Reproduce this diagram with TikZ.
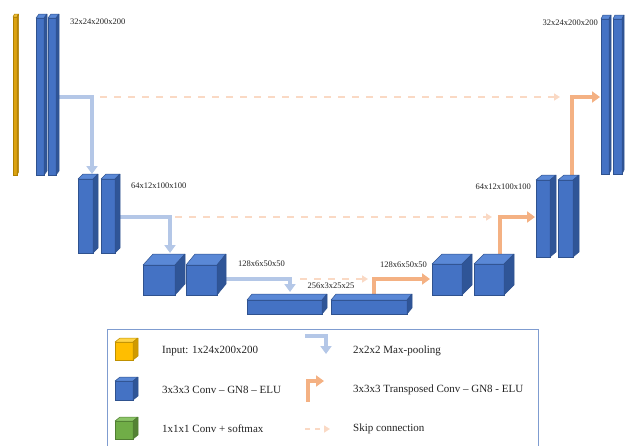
\documentclass[tikz,border=0pt]{standalone}
\usepackage{fontspec}
\setmainfont{Liberation Serif}
\usetikzlibrary{arrows.meta,fit}
\pgfdeclarelayer{back}
\pgfsetlayers{back,main}

% block palettes: front, top, side, edge
\definecolor{bluefront}{HTML}{4472C4}
\definecolor{bluetop}{HTML}{5A88D6}
\definecolor{blueside}{HTML}{2F5597}
\definecolor{blueedge}{HTML}{2F528F}
\definecolor{goldfront}{HTML}{FFBE00}
\definecolor{goldtop}{HTML}{FFD447}
\definecolor{goldside}{HTML}{D09A00}
\definecolor{goldedge}{HTML}{BF9000}
\definecolor{barfront}{HTML}{DCA312}
\definecolor{bartop}{HTML}{EDBE3A}
\definecolor{barside}{HTML}{B8860B}
\definecolor{baredge}{HTML}{B08000}
\definecolor{greenfront}{HTML}{70AD47}
\definecolor{greentop}{HTML}{8CC568}
\definecolor{greenside}{HTML}{548235}
\definecolor{greenedge}{HTML}{507E32}
% connector colours
\definecolor{poolblue}{HTML}{B4C7E7}
\definecolor{upcol}{HTML}{F4B183}
\definecolor{skipcol}{HTML}{FAD9C4}
\definecolor{framecol}{HTML}{7F9CD0}
\definecolor{txt}{HTML}{222222}

% cuboid: name, top-left of front face, bottom-right of front face, depth dx, depth dy, palette
\newcommand\cuboid[6]{%
  \node[fit={#2 #3}, inner sep=0pt, outer sep=0pt, draw=#6edge, fill=#6front, line width=0.5pt] (#1) {};
  \filldraw[draw=#6edge, fill=#6top, line width=0.5pt, line join=round]
    (#1.north west) -- ++(#4pt,#5pt) -- ([xshift=#4pt,yshift=#5pt]#1.north east) -- (#1.north east) -- cycle;
  \filldraw[draw=#6edge, fill=#6side, line width=0.5pt, line join=round]
    (#1.north east) -- ++(#4pt,#5pt) -- ([xshift=#4pt,yshift=#5pt]#1.south east) -- (#1.south east) -- cycle;
}

\tikzset{
  pool/.style={draw=poolblue, line width=3.5pt, -{Triangle[width=11pt,length=8pt]}},
  upconv/.style={draw=upcol, line width=3.5pt, -{Triangle[width=11pt,length=8pt]}},
  skip/.style={draw=skipcol, line width=1.6pt, dash pattern=on 7pt off 7pt, -{Triangle[width=7pt,length=6pt]}},
  dimlabel/.style={font=\fontsize{8.5}{10}\selectfont, text=txt, inner sep=0pt},
  legtext/.style={font=\fontsize{11}{13}\selectfont, text=txt, inner sep=0pt, anchor=west},
  legendbox/.style={draw=framecol, line width=1pt, inner sep=0pt},
}

\begin{document}
\begin{tikzpicture}[x=1pt,y=-1pt]
\useasboundingbox (0,0) rectangle (637,445);

% encoder
\cuboid{input}{(13,17)}{(17,175)}{1.5}{3}{bar}
\cuboid{L1a}{(36,18)}{(44,175)}{3}{4}{blue}
\cuboid{L1b}{(48,18)}{(56,175)}{3}{4}{blue}
\cuboid{L2a}{(78,179)}{(93,253)}{5}{5}{blue}
\cuboid{L2b}{(101,179)}{(115,253)}{5}{5}{blue}
\cuboid{L3a}{(143,265)}{(175,295)}{10}{11}{blue}
\cuboid{L3b}{(186,265)}{(217,295)}{9}{11}{blue}
% bottleneck
\cuboid{B1}{(247,300)}{(322,314)}{5}{6}{blue}
\cuboid{B2}{(331,300)}{(407,314)}{5}{6}{blue}
% decoder
\cuboid{R3a}{(432,264)}{(462,295)}{10}{10}{blue}
\cuboid{R3b}{(474,264)}{(504,295)}{10}{10}{blue}
\cuboid{R2a}{(536,180)}{(550,257)}{6}{5}{blue}
\cuboid{R2b}{(558,180)}{(573,257)}{6}{5}{blue}
\cuboid{R1a}{(601,19)}{(609,174)}{2}{4}{blue}
\cuboid{R1b}{(613,19)}{(622,174)}{2}{4}{blue}

% feature map sizes
\node[dimlabel, anchor=west] (d1) at (70,22) {32x24x200x200};
\node[dimlabel, anchor=west] (d2) at (131,186) {64x12x100x100};
\node[dimlabel, anchor=west] (d3) at (238,264) {128x6x50x50};
\node[dimlabel] (d4) at (331,286) {256x3x25x25};
\node[dimlabel, anchor=west] (d5) at (380,265) {128x6x50x50};
\node[dimlabel, anchor=east] (d6) at (531,187) {64x12x100x100};
\node[dimlabel, anchor=east] (d7) at (598,23) {32x24x200x200};

% level heights
\coordinate (lv1) at (0,97);
\coordinate (lv2) at (0,217);
\coordinate (lv3) at (0,279);
% skip connection ends
\coordinate (s1a) at (100,97);  \coordinate (s1b) at (560,97);
\coordinate (s2a) at (175,217); \coordinate (s2b) at (492,217);
\coordinate (s3a) at (300,279); \coordinate (s3b) at (368,279);

\begin{pgfonlayer}{back}
  % max-pooling
  \draw[pool] (L1b.east |- lv1) -| ([xshift=-1pt,yshift=5pt]L2a.north east);
  \draw[pool] (L2b.east |- lv2) -| ([xshift=-5pt,yshift=12pt]L3a.north east);
  \draw[pool] (L3b.east |- lv3) -| ([xshift=-32pt,yshift=8pt]B1.north east);
  % transposed convolutions
  \draw[upconv] ([xshift=43pt]B2.north west) |- ([xshift=-2pt]R3a.west |- lv3);
  \draw[upconv] ([xshift=-4pt]R3b.north east) |- ([xshift=-1pt]R2a.west |- lv2);
  \draw[upconv] ([xshift=-1pt]R2b.north east) |- ([xshift=-1pt]R1a.west |- lv1);
  % skip connections
  \draw[skip] (s1a) -- (s1b);
  \draw[skip] (s2a) -- (s2b);
  \draw[skip] (s3a) -- (s3b);
\end{pgfonlayer}

% legend
\node[legendbox, fit={(107,329) (538,452)}] (legend) {};
\cuboid{kin}{(115,342)}{(133,360)}{5}{4}{gold}
\cuboid{kconv}{(115,381)}{(133,400)}{5}{4}{blue}
\cuboid{kout}{(115,421)}{(133,439)}{5}{4}{green}
\node[legtext] (tin) at (162,351) {Input: 1x24x200x200};
\node[legtext] (tconv) at (162,390) {3x3x3 Conv – GN8 – ELU};
\node[legtext] (tout) at (162,429) {1x1x1 Conv + softmax};

\coordinate (ip1) at (305,336); \coordinate (ip2) at (326,354);
\coordinate (iu1) at (308,402); \coordinate (iu2) at (324,381);
\coordinate (is1) at (305,429); \coordinate (is2) at (330,429);
\draw[pool] (ip1) -| (ip2);
\draw[upconv] (iu1) |- (iu2);
\draw[skip, dash pattern=on 5pt off 5pt] (is1) -- (is2);
\node[legtext] (tpool) at (353,351) {2x2x2 Max-pooling};
\node[legtext] (tup) at (353,390) {3x3x3 Transposed Conv – GN8 - ELU};
\node[legtext] (tskip) at (353,429) {Skip connection};
\end{tikzpicture}
\end{document}
